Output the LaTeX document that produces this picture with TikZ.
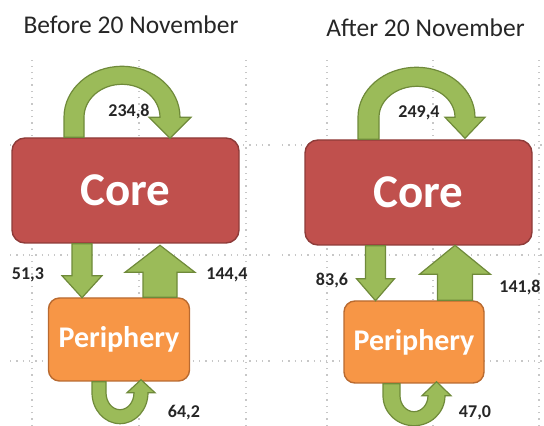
\documentclass[tikz,border=0pt]{standalone}
\usepackage{fontspec}
\setmainfont{Carlito}
\usepackage{tikz}
\usetikzlibrary{calc}

\definecolor{corered}{HTML}{C0504D}
\definecolor{coreedge}{HTML}{8E3B39}
\definecolor{periorange}{HTML}{F79646}
\definecolor{periedge}{HTML}{B96A30}
\definecolor{flowgreen}{HTML}{9BBB59}
\definecolor{flowedge}{HTML}{6F8A3A}
\definecolor{valtext}{HTML}{262626}

\tikzset{
  corebox/.style={draw=coreedge, fill=corered, line width=1.4pt, rounded corners=13pt,
    minimum width=227pt, minimum height=105pt, text=white,
    font=\bfseries\fontsize{47}{50}\selectfont},
  peribox/.style={draw=periedge, fill=periorange, line width=1.4pt, rounded corners=11pt,
    minimum width=141pt, minimum height=83pt, text=white,
    font=\bfseries\fontsize{30}{33}\selectfont},
  garrow/.style={draw=flowedge, fill=flowgreen, line width=1.2pt, line join=miter},
  val/.style={text=valtext, font=\bfseries\fontsize{18}{20}\selectfont},
  ttl/.style={text=black!85, font=\fontsize{25.5}{28}\selectfont},
  dotgrid/.style={draw=black!22, line width=1.2pt, dash pattern=on 1.3pt off 5pt}
}

\begin{document}
\begin{tikzpicture}[x=1pt,y=1pt]
\useasboundingbox (0,0) rectangle (544,426);
% grid lines behind
\foreach \x in {32,139,246,327,433,539} \draw[dotgrid] (\x,0) -- (\x,366);
\foreach \y in {281,171,65} {
  \draw[dotgrid] (10,\y) -- (272,\y);
  \draw[dotgrid] (282,\y) -- (544,\y);
}

%%% before
\node[ttl] (ttlA) at (131,401) {Before 20 November};
\node[corebox] (coreA) at (125.5,235.5) {Core};
\node[peribox] (periA) at (119,86.5) {Periphery};
% core -> core
\coordinate (tA) at ($(coreA.north)+(-3.5,20)$);
\draw[garrow] (tA) ++(-58,-20) -- ++(0,20) arc[start angle=180,end angle=0,x radius=58,y radius=51]
  -- ++(11,0) -- ++(-21,-21) -- ++(-21,21) -- ++(11,0)
  arc[start angle=0,end angle=180,x radius=38,y radius=33] -- ++(0,-20) -- cycle;
% core -> periphery
\coordinate (dA) at ($(coreA.south)+(-43.5,0)$);
\draw[garrow] (dA) ++(-10,0) -- ++(0,-32) -- ++(-10,0) -- ++(20,-22) -- ++(20,22) -- ++(-10,0) -- ++(0,32) -- cycle;
% periphery -> core
\coordinate (uA) at ($(periA.north)+(41,0)$);
\draw[garrow] (uA) ++(-17,0) -- ++(0,25) -- ++(-18,0) -- ++(35,27) -- ++(35,-27) -- ++(-18,0) -- ++(0,-25) -- cycle;
% periphery -> periphery
\coordinate (bA) at ($(periA.south)+(1,-11)$);
\draw[garrow] (bA) ++(-28,11) -- ++(0,-11) arc[start angle=180,end angle=360,x radius=28,y radius=31]
  -- ++(7,0) -- ++(-14,13) -- ++(-14,-13) -- ++(7,0)
  arc[start angle=0,end angle=-180,x radius=14,y radius=17] -- ++(0,11) -- cycle;
\node[val] (vAcc) at (129,314) {234,8};
\node[val] (vAcp) at (28,151) {51,3};
\node[val] (vApc) at (227,151) {144,4};
\node[val] (vApp) at (184,13) {64,2};

%%% after
\node[ttl] (ttlB) at (425.5,398) {After 20 November};
\node[corebox] (coreB) at (418.5,233.5) {Core};
\node[peribox, minimum width=140pt, minimum height=82pt] (periB) at (414,84) {Periphery};
% core -> core
\coordinate (tB) at ($(coreB.north)+(-2,22)$);
\draw[garrow] (tB) ++(-58.5,-22) -- ++(0,22) arc[start angle=180,end angle=0,x radius=58.5,y radius=50]
  -- ++(10,0) -- ++(-20,-21) -- ++(-20,21) -- ++(10,0)
  arc[start angle=0,end angle=180,x radius=38,y radius=31] -- ++(0,-22) -- cycle;
% core -> periphery
\coordinate (dB) at ($(coreB.south)+(-43,0)$);
\draw[garrow] (dB) ++(-10,0) -- ++(0,-33) -- ++(-9,0) -- ++(19,-22) -- ++(19,22) -- ++(-9,0) -- ++(0,33) -- cycle;
% periphery -> core
\coordinate (uB) at ($(periB.north)+(41,0)$);
\draw[garrow] (uB) ++(-17.5,0) -- ++(0,26) -- ++(-18,0) -- ++(35.5,29) -- ++(35.5,-29) -- ++(-18,0) -- ++(0,-26) -- cycle;
% periphery -> periphery
\coordinate (bB) at ($(periB.south)+(0,-12)$);
\draw[garrow] (bB) ++(-31,12) -- ++(0,-12) arc[start angle=180,end angle=360,x radius=31,y radius=30]
  -- ++(6,0) -- ++(-14.5,14) -- ++(-14.5,-14) -- ++(6,0)
  arc[start angle=0,end angle=-180,x radius=14,y radius=16] -- ++(0,12) -- cycle;
\node[val] (vBcc) at (419,313) {249,4};
\node[val] (vBcp) at (332,145) {83,6};
\node[val] (vBpc) at (520,138) {141,8};
\node[val] (vBpp) at (475,13) {47,0};
\end{tikzpicture}
\end{document}
